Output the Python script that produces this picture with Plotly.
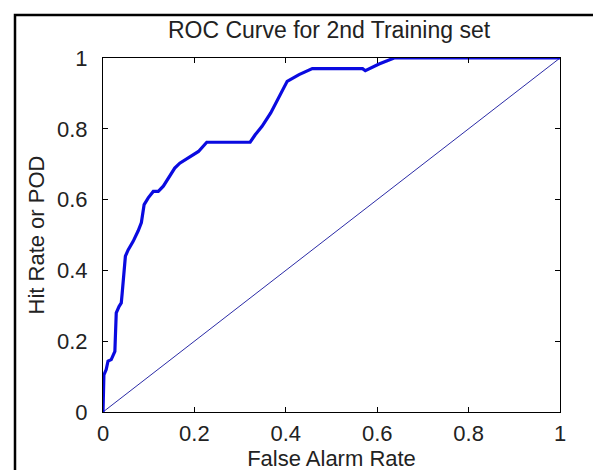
import plotly.graph_objects as go

# ROC curve values
far = [0.0, 0.002, 0.007, 0.011, 0.018, 0.026, 0.027, 0.029, 0.035, 0.040, 0.042, 0.044,
       0.046, 0.049, 0.055, 0.066, 0.077, 0.084, 0.090, 0.099, 0.110, 0.121, 0.132,
       0.143, 0.157, 0.168, 0.187, 0.209, 0.227, 0.322, 0.333, 0.348, 0.367, 0.385,
       0.403, 0.429, 0.458, 0.568, 0.574, 0.604, 0.637, 1.0]
pod = [0.0, 0.105, 0.120, 0.144, 0.148, 0.171, 0.209, 0.280, 0.298, 0.308, 0.336, 0.374,
       0.407, 0.440, 0.458, 0.482, 0.512, 0.535, 0.586, 0.605, 0.623, 0.623, 0.638,
       0.661, 0.689, 0.703, 0.718, 0.736, 0.762, 0.762, 0.783, 0.807, 0.845, 0.890,
       0.934, 0.953, 0.970, 0.970, 0.964, 0.983, 1.0, 1.0]
diag_x = [0, 1]
diag_y = [0, 1]
tick_vals = [0, 0.2, 0.4, 0.6, 0.8, 1]
tick_text = ["0", "0.2", "0.4", "0.6", "0.8", "1"]

FONT = "Liberation Sans, Arial, sans-serif"
TXT = "#222"

fig = go.Figure()
fig.add_trace(go.Scatter(x=diag_x, y=diag_y, mode="lines",
                         line=dict(color="#2b2ba6", width=1), showlegend=False))
fig.add_trace(go.Scatter(x=far, y=pod, mode="lines",
                         line=dict(color="#0a0ae0", width=3.2), showlegend=False))

axis_common = dict(range=[0, 1], tickvals=tick_vals, ticktext=tick_text,
                   showgrid=False, zeroline=False, showline=True, linecolor="black",
                   linewidth=1, ticks="inside", ticklen=5, tickcolor="black",
                   mirror="ticks", tickfont=dict(family=FONT, size=22, color=TXT))

fig.update_xaxes(**axis_common, ticklabelstandoff=2,
                 title=dict(text="False Alarm Rate", font=dict(family=FONT, size=22, color=TXT),
                            standoff=0))
fig.update_yaxes(**axis_common, ticklabelstandoff=10,
                 title=dict(text="Hit Rate or POD", font=dict(family=FONT, size=22, color=TXT),
                            standoff=6))

fig.update_layout(
    width=601, height=470,
    margin=dict(l=95, r=49, t=50, b=66),
    paper_bgcolor="white", plot_bgcolor="white",
    title=dict(text="ROC Curve for 2nd Training set", x=321 / 601, xanchor="center",
               y=1 - 22 / 470, yanchor="middle", yref="container",
               font=dict(family=FONT, size=23, color=TXT)),
    shapes=[dict(type="rect", xref="paper", yref="paper",
                 x0=(7 - 95) / 457, x1=(640 - 95) / 457,
                 y0=-(520 - 404) / 354, y1=1 + (50 - 7) / 354,
                 line=dict(color="black", width=2.5), layer="above")],
)

fig.write_html("out.html")
